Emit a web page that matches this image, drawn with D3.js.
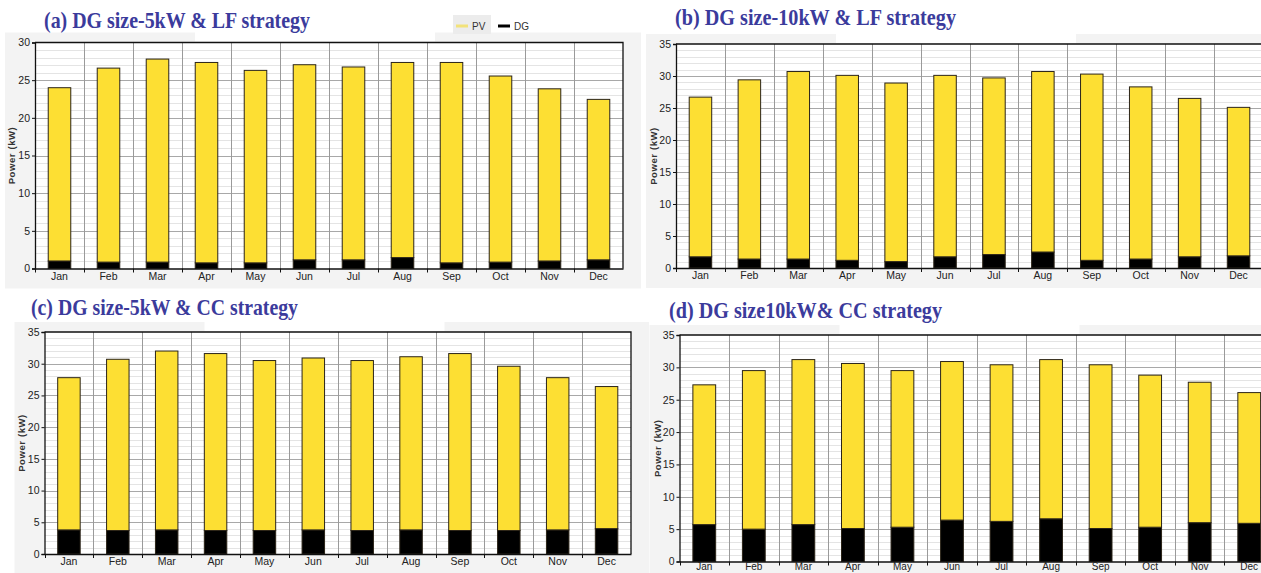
<!DOCTYPE html>
<html>
<head>
<meta charset="utf-8">
<script src="https://cdn.jsdelivr.net/npm/d3@7"></script>
<style>
  body { margin: 0; background: #fff; }
  svg { display: block; }
</style>
</head>
<body>
<svg id="chart" width="1261" height="573"></svg>
<script>
const months = ['Jan', 'Feb', 'Mar', 'Apr', 'May', 'Jun', 'Jul', 'Aug', 'Sep', 'Oct', 'Nov', 'Dec'];
const seriesNames = ['DG', 'PV'];

// (a) DG 5kW, LF
const pvA = [23.0, 25.75, 26.95, 26.6, 25.55, 25.9, 25.6, 25.9, 26.6, 24.7, 22.85, 21.3];
const dgA = [1.0, 0.85, 0.85, 0.75, 0.75, 1.15, 1.15, 1.45, 0.75, 0.85, 1.0, 1.15];
// (b) DG 10kW, LF
const pvB = [24.95, 28.0, 29.3, 28.9, 27.9, 28.35, 27.6, 28.2, 29.1, 26.9, 24.75, 23.2];
const dgB = [1.75, 1.4, 1.4, 1.2, 1.0, 1.75, 2.1, 2.5, 1.2, 1.4, 1.75, 1.9];
// (c) DG 5kW, CC
const pvC = [24.0, 27.0, 28.2, 27.9, 26.8, 27.1, 26.8, 27.3, 27.9, 25.9, 24.0, 22.4];
const dgC = [3.8, 3.7, 3.8, 3.7, 3.7, 3.8, 3.7, 3.8, 3.7, 3.7, 3.8, 4.0];
// (d) DG 10kW, CC
const pvD = [21.6, 24.5, 25.5, 25.5, 24.2, 24.5, 24.2, 24.6, 25.3, 23.5, 21.7, 20.2];
const dgD = [5.7, 5.0, 5.7, 5.1, 5.3, 6.4, 6.2, 6.6, 5.1, 5.3, 6.0, 5.9];

const titles = [
  '(a) DG size-5kW & LF strategy',
  '(b) DG size-10kW & LF strategy',
  '(c) DG size-5kW & CC strategy',
  '(d) DG size10kW& CC strategy'
];
const yMaxes = [30, 35, 35, 35];

const colors = { PV: '#fddf33', DG: '#000000' };

const svg = d3.select('#chart');

// layout of each panel
const panels = [
  { left: 35, right: 623, top: 42.5, bottom: 268.5, tx: 44, ty: 28, tw: 266, lx: 12,
    pv: pvA, dg: dgA, legend: true, pad: 4 },
  { left: 676, right: 1263, top: 44, bottom: 268, tx: 675, ty: 25, tw: 281, lx: 654,
    pv: pvB, dg: dgB, pad: 4 },
  { left: 44.5, right: 631, top: 332, bottom: 554, tx: 31, ty: 315, tw: 267, lx: 22,
    pv: pvC, dg: dgC, pad: 4 },
  { left: 679.5, right: 1274, top: 335, bottom: 561.5, tx: 669, ty: 318, tw: 273, lx: 658,
    pv: pvD, dg: dgD, pad: 1 }
];

panels.forEach((p, i) => {
  const data = months.map((m, k) => ({ month: m, PV: p.pv[k], DG: p.dg[k] }));
  const yMax = yMaxes[i];

  const x = d3.scaleBand()
    .domain(months)
    .range([p.left, p.right])
    .paddingInner(0.54)
    .paddingOuter(0.27);

  const y = d3.scaleLinear()
    .domain([0, yMax])
    .range([p.bottom, p.top]);

  const g = svg.append('g');

  // grey screenshot background round the plot
  g.append('rect')
    .attr('x', p.left - 30).attr('y', p.top - 10)
    .attr('width', p.right - p.left + 48).attr('height', p.bottom - p.top + 30)
    .attr('fill', '#f3f3f3');
  g.append('rect')
    .attr('x', p.left + 160).attr('y', p.top - 11)
    .attr('width', 240).attr('height', 10)
    .attr('fill', '#fff');

  // plot area
  g.append('rect')
    .attr('x', p.left).attr('y', p.top)
    .attr('width', p.right - p.left).attr('height', p.bottom - p.top)
    .attr('fill', '#fff');

  // minor gridlines
  g.append('g')
    .selectAll('line')
    .data(d3.range(1, yMax).filter(v => v % 5 !== 0))
    .join('line')
    .attr('x1', p.left).attr('x2', p.right)
    .attr('y1', d => Math.round(y(d)) + 0.5).attr('y2', d => Math.round(y(d)) + 0.5)
    .attr('stroke', '#e4e4e4');

  // major gridlines
  g.append('g')
    .selectAll('line')
    .data(d3.range(5, yMax, 5))
    .join('line')
    .attr('x1', p.left).attr('x2', p.right)
    .attr('y1', d => Math.round(y(d)) + 0.5).attr('y2', d => Math.round(y(d)) + 0.5)
    .attr('stroke', '#a8a8a8');

  // vertical gridlines at category boundaries
  const step = x.step();
  const bounds = d3.range(1, months.length).map(k => p.left + k * step);
  g.append('g')
    .selectAll('line')
    .data(bounds)
    .join('line')
    .attr('x1', d => Math.round(d) + 0.5).attr('x2', d => Math.round(d) + 0.5)
    .attr('y1', p.top).attr('y2', p.bottom)
    .attr('stroke', '#9a9a9a');

  // stacked bars
  const stacked = d3.stack().keys(seriesNames)(data);
  g.append('g')
    .selectAll('g')
    .data(stacked)
    .join('g')
    .attr('fill', d => colors[d.key])
    .selectAll('rect')
    .data(d => d)
    .join('rect')
    .attr('x', d => x(d.data.month))
    .attr('y', d => y(d[1]))
    .attr('width', x.bandwidth())
    .attr('height', d => y(d[0]) - y(d[1]))
    .attr('stroke', '#2b2418')
    .attr('stroke-width', 1);

  // frame
  g.append('path')
    .attr('d', `M${p.left},${p.top}H${p.right}V${p.bottom}`)
    .attr('fill', 'none').attr('stroke', '#111').attr('stroke-width', 1.3);

  // y axis
  const yAxis = g.append('g')
    .attr('transform', `translate(${p.left},0)`)
    .call(d3.axisLeft(y).tickValues(d3.range(0, yMax + 1, 5)).tickSize(3).tickPadding(2));
  yAxis.select('.domain').attr('stroke', '#111').attr('stroke-width', 1.3);
  yAxis.selectAll('.tick line').attr('stroke', '#111');
  yAxis.selectAll('text')
    .attr('font-family', 'Liberation Sans, Arial, sans-serif')
    .attr('font-size', 10.5).attr('fill', '#222');

  // x axis
  const xAxis = g.append('g')
    .attr('transform', `translate(0,${p.bottom})`)
    .call(d3.axisBottom(x).tickSize(0).tickPadding(p.pad));
  xAxis.select('.domain').attr('stroke', '#111').attr('stroke-width', 1.3);
  xAxis.selectAll('text')
    .attr('font-family', 'Liberation Sans, Arial, sans-serif')
    .attr('font-size', i === 3 ? 10 : 10.5).attr('fill', '#222');
  g.append('g')
    .selectAll('line')
    .data([p.left].concat(bounds))
    .join('line')
    .attr('x1', d => Math.round(d) + 0.5).attr('x2', d => Math.round(d) + 0.5)
    .attr('y1', p.bottom).attr('y2', p.bottom + 4)
    .attr('stroke', '#111');

  // y label
  g.append('text')
    .attr('transform', `translate(${p.lx},${(p.top + p.bottom) / 2}) rotate(-90)`)
    .attr('text-anchor', 'middle')
    .attr('dy', '0.35em')
    .attr('font-family', 'Liberation Sans, Arial, sans-serif')
    .attr('font-size', 9.5)
    .attr('font-weight', 'bold')
    .attr('letter-spacing', 0.6)
    .attr('fill', '#333')
    .text('Power (kW)');

  // title
  g.append('text')
    .attr('x', p.tx).attr('y', p.ty)
    .attr('font-family', 'Liberation Serif, Times New Roman, serif')
    .attr('font-size', 23)
    .attr('font-weight', 'bold')
    .attr('fill', '#3b3b9c')
    .attr('textLength', p.tw)
    .attr('lengthAdjust', 'spacingAndGlyphs')
    .text(titles[i]);

  // legend
  if (p.legend) {
    const lg = g.append('g').attr('transform', 'translate(453,26)');
    lg.append('rect').attr('x', 0).attr('y', -11).attr('width', 38).attr('height', 19).attr('fill', '#ececec');
    const items = [{ k: 'PV', x: 3 }, { k: 'DG', x: 45 }];
    items.forEach(it => {
      lg.append('line')
        .attr('x1', it.x).attr('x2', it.x + 12).attr('y1', 0).attr('y2', 0)
        .attr('stroke', it.k === 'PV' ? '#f2e27a' : '#000').attr('stroke-width', 3);
      lg.append('text')
        .attr('x', it.x + 16).attr('y', 0).attr('dy', '0.35em')
        .attr('font-family', 'Liberation Sans, Arial, sans-serif')
        .attr('font-size', 10).attr('fill', '#333')
        .text(it.k);
    });
  }
});
</script>
</body>
</html>
